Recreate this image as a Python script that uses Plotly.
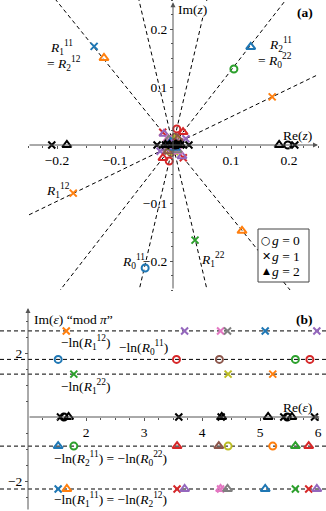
import numpy as np
import plotly.graph_objects as go

W, H = 326, 511
FONT = "Liberation Serif"
FS = 13.5
AX = "#555555"

TAB10 = ["#1f77b4", "#ff7f0e", "#2ca02c", "#d62728", "#9467bd",
         "#8c564b", "#e377c2", "#7f7f7f", "#bcbd22", "#17becf"]
SYMBOL = {0: "circle-open", 1: "x-thin-open", 2: "triangle-up-open"}
SIZE = {0: 7, 1: 7, 2: 8}
G_NAMES = ["<i>g</i> = 0", "<i>g</i> = 1", "<i>g</i> = 2"]
G_GLYPH = ["\u25cb", "\u2715", "\u25b2"]

# ---------------- data ----------------
# Im(eps) of the dashed levels (panel b); in panel (a) they are lines arg z = -Im(eps)
level_im = [2.69, 1.80, 1.34, -0.91, -2.25]

# panel (b): eps plane   (colour index -1 = black, g = 0/1/2)
b_re = [1.66, 3.70, 4.32, 4.44, 5.09, 5.98,
        1.52, 3.56, 4.30, 5.61, 5.86,
        1.79, 4.45, 5.22,
        1.52, 1.79, 3.57, 4.29, 4.45, 5.22, 5.61, 5.84,
        1.52, 1.67, 3.57, 3.70, 4.32, 4.32, 4.44, 5.09, 5.61, 5.84, 5.98,
        1.56, 1.62, 1.70, 3.60, 4.33, 4.34, 5.14, 5.41, 5.47, 5.55, 5.94]
b_im = [2.69] * 6 + [1.80] * 5 + [1.34] * 3 + [-0.91] * 8 + [-2.25] * 11 + [0.0] * 11
b_col = [1, 4, 6, 7, 0, 4,
         0, 3, 5, 2, 3,
         2, 8, 1,
         0, 2, 3, 5, 8, 1, 2, 3,
         0, 1, 3, 4, 6, 6, 7, 0, 2, 3, 4,
         -1, -1, -1, -1, -1, -1, -1, -1, -1, -1, -1]
b_g = [1, 1, 1, 1, 1, 1,
       0, 0, 0, 0, 0,
       1, 1, 1,
       2, 0, 2, 2, 0, 0, 2, 2,
       1, 2, 1, 2, 1, 2, 2, 2, 1, 1, 2,
       1, 0, 2, 1, 1, 2, 2, 1, 0, 2, 1]

# panel (a): z plane
a_re = [-0.136, -0.119, 0.134, 0.105, 0.171, -0.172, 0.119, 0.038, -0.048,
        0.0222, -0.0222, 0.0120, -0.0120, 0.0106, -0.0106, 0.0055, -0.0055, 0.0023, -0.0023,
        0.0065, -0.0065, 0.0031, -0.0031, 0.0008, -0.0008, 0.0006, -0.0006,
        0.0027, -0.0027, 0.0012, -0.0012,
        0.0173, -0.0173, 0.0084, -0.0084, 0.0072, -0.0072, 0.0033, -0.0033,
        0.0022, -0.0022, 0.0018, -0.0018,
        -0.0177, 0.0177, -0.0155, 0.0155, -0.0084, 0.0084, -0.0084, 0.0084,
        -0.0074, 0.0074, -0.0039, 0.0039, -0.0023, 0.0023, -0.0018, 0.0018, -0.0016, 0.0016,
        -0.209, 0.210, -0.0275, 0.0275, -0.0131, 0.0131, 0.0045, -0.0026,
        0.198, 0.0042,
        -0.183, 0.183, -0.0131, 0.0131, -0.0059, 0.0059, 0.0039]
a_im = [0.170, 0.150, 0.169, 0.131, 0.083, -0.083, -0.148, -0.164, -0.212,
        0.0108, -0.0108, 0.0058, -0.0058, 0.0051, -0.0051, 0.0027, -0.0027, 0.0011, -0.0011,
        0.0277, -0.0277, 0.0132, -0.0132, 0.0036, -0.0036, 0.0028, -0.0028,
        -0.0114, 0.0114, -0.0053, 0.0053,
        0.0222, -0.0222, 0.0108, -0.0108, 0.0092, -0.0092, 0.0043, -0.0043,
        0.0029, -0.0029, 0.0023, -0.0023,
        0.0219, -0.0219, 0.0192, -0.0192, 0.0103, -0.0103, 0.0103, -0.0103,
        0.0092, -0.0092, 0.0048, -0.0048, 0.0028, -0.0028, 0.0023, -0.0023, 0.0020, -0.0020,
        0, 0, 0, 0, 0, 0, 0, 0,
        0, 0,
        0, 0, 0, 0, 0, 0, 0]
a_col = [0, 1, 0, 2, 1, 1, 1, 2, 0,
         4, 4, 6, 6, 7, 7, 0, 0, 4, 4,
         3, 3, 5, 5, 2, 2, 3, 3,
         8, 8, 1, 1,
         3, 3, 5, 5, 8, 8, 1, 1, 2, 2, 3, 3,
         3, 3, 4, 4, 6, 6, 6, 6, 7, 7, 0, 0, 2, 2, 3, 3, 4, 4,
         -1, -1, -1, -1, -1, -1, -1, -1,
         -1, -1,
         -1, -1, -1, -1, -1, -1, -1]
a_g = [1, 2, 2, 0, 1, 1, 2, 1, 0,
       1, 1, 1, 1, 1, 1, 1, 1, 1, 1,
       0, 0, 0, 0, 0, 0, 0, 0,
       1, 1, 1, 1,
       2, 2, 2, 2, 0, 0, 0, 0, 2, 2, 2, 2,
       1, 1, 2, 2, 1, 1, 2, 2, 2, 2, 2, 2, 1, 1, 1, 1, 2, 2,
       1, 1, 1, 1, 1, 1, 1, 1,
       0, 0,
       2, 2, 2, 2, 2, 2, 2]

# tick labels
a_ticks = [-0.2, -0.1, 0.1, 0.2]
a_ticktext = ["\u22120.2", "\u22120.1", "0.1", "0.2"]
b_xticks = [2, 3, 4, 5, 6]
b_yticks = [-2, 2]
b_yticktext = ["\u22122", "2"]

# ---------------- geometry (pixels) ----------------
A_RANGE = 0.25
A_PX = (28, 318)      # x pixel span of panel (a)
A_PY = (0, 290)       # y pixel span of panel (a)
B_PY = (305, 511)
B_XRANGE = [1 - 28 / 58, 1 + 298 / 58]
B_YRANGE = [(417 - 511) / 32, (417 - 305) / 32]

def py2paper(py):
    return 1 - py / H

a_xdom = [A_PX[0] / W, A_PX[1] / W]
a_ydom = [py2paper(A_PY[1]), py2paper(A_PY[0])]
b_xdom = [0, 1]
b_ydom = [py2paper(B_PY[1]), py2paper(B_PY[0])]
a_x0paper = a_xdom[0] + (0 + A_RANGE) / (2 * A_RANGE) * (a_xdom[1] - a_xdom[0])
a_y0paper = a_ydom[0] + (0 + A_RANGE) / (2 * A_RANGE) * (a_ydom[1] - a_ydom[0])
b_x1paper = (1 - B_XRANGE[0]) / (B_XRANGE[1] - B_XRANGE[0])
b_y0paper = b_ydom[0] + (0 - B_YRANGE[0]) / (B_YRANGE[1] - B_YRANGE[0]) * (b_ydom[1] - b_ydom[0])

fig = go.Figure()

# dashed lines of panel (a): lines through the origin at arg z = -Im(eps)
for lv in level_im:
    th = -lv
    fig.add_trace(go.Scatter(
        x=[-0.6 * np.cos(th), 0.6 * np.cos(th)], y=[-0.6 * np.sin(th), 0.6 * np.sin(th)],
        mode="lines", line=dict(color="black", width=1, dash="4px,3px"),
        hoverinfo="skip", showlegend=False, xaxis="x", yaxis="y"))

def colour(c):
    return "black" if c < 0 else TAB10[c]

def add_points(re, im, col, g, xa, ya):
    re, im, col, g = map(np.asarray, (re, im, col, g))
    for black in (False, True):
        for gg in (0, 1, 2):
            m = (g == gg) & ((col < 0) if black else (col >= 0))
            if not m.any():
                continue
            cs = [colour(c) for c in col[m]]
            fig.add_trace(go.Scatter(
                x=re[m], y=im[m], mode="markers", xaxis=xa, yaxis=ya,
                marker=dict(symbol=SYMBOL[gg], size=SIZE[gg], color=cs,
                            line=dict(width=2, color=cs)),
                name=G_NAMES[gg], showlegend=False, hoverinfo="skip", cliponaxis=False))

add_points(a_re, a_im, a_col, a_g, "x", "y")
add_points(b_re, b_im, b_col, b_g, "x2", "y2")

tickfont = dict(family=FONT, size=FS, color="black")
common = dict(showgrid=False, zeroline=False, showline=False, ticks="outside",
              ticklen=3, tickwidth=1, tickcolor=AX, tickfont=tickfont, anchor="free",
              automargin=False)

a_minor = [round(v, 3) for v in np.arange(-0.25, 0.2501, 0.025)
           if abs(v) > 1e-9 and round(v, 3) not in a_ticks]
b_xminor = [v for v in np.arange(1.25, 6.001, 0.25) if v not in b_xticks]
b_yminor = [v for v in np.arange(-2.5, 3.001, 0.5) if v not in b_yticks and v != 0]

fig.update_layout(
    width=W, height=H, margin=dict(l=0, r=0, t=0, b=0, autoexpand=False),
    paper_bgcolor="white", plot_bgcolor="rgba(0,0,0,0)",
    font=dict(family=FONT, size=FS, color="black"),
    xaxis=dict(domain=a_xdom, range=[-A_RANGE, A_RANGE], position=a_y0paper,
               tickvals=a_ticks, ticktext=a_ticktext,
               minor=dict(tickvals=a_minor, ticks="outside", ticklen=2, tickcolor=AX),
               **common),
    yaxis=dict(domain=a_ydom, range=[-A_RANGE, A_RANGE], position=a_x0paper,
               tickvals=a_ticks, ticktext=a_ticktext,
               minor=dict(tickvals=a_minor, ticks="outside", ticklen=2, tickcolor=AX),
               **common),
    xaxis2=dict(domain=b_xdom, range=B_XRANGE, position=b_y0paper,
                tickvals=b_xticks,
                minor=dict(tickvals=b_xminor, ticks="outside", ticklen=2, tickcolor=AX),
                **common),
    yaxis2=dict(domain=b_ydom, range=B_YRANGE, position=b_x1paper,
                tickvals=b_yticks, ticktext=b_yticktext,
                minor=dict(tickvals=b_yminor, ticks="outside", ticklen=2, tickcolor=AX),
                **common),
    showlegend=False,
    hovermode=False,
)

# dashed levels of panel (b)
for lv in level_im:
    fig.add_shape(type="line", xref="paper", x0=0, x1=1, yref="y2", y0=lv, y1=lv,
                  line=dict(color="black", width=1, dash="4px,3px"), layer="below")

def arrow(x0, y0, x1, y1, xr, yr):
    fig.add_annotation(x=x1, y=y1, ax=x0, ay=y0, xref=xr, yref=yr, axref=xr, ayref=yr,
                       text="", showarrow=True, arrowhead=2, arrowsize=1,
                       arrowwidth=1, arrowcolor=AX, standoff=0, startstandoff=0)

arrow(-A_RANGE, 0, A_RANGE, 0, "x", "y")
arrow(0, -A_RANGE, 0, 0.246, "x", "y")
arrow(1, 0, 6.03, 0, "x2", "y2")
arrow(1, B_YRANGE[0], 1, 3.41, "x2", "y2")

def label(text, x, y, xr, yr, xanchor="center", bg=None, family=FONT, size=FS):
    fig.add_annotation(x=x, y=y, xref=xr, yref=yr, text=text, showarrow=False,
                       xanchor=xanchor, yanchor="middle",
                       font=dict(family=family, size=size, color="black"),
                       bgcolor=bg, borderpad=0)

R = lambda lo, up: f"<i>R</i><sub>{lo}</sub><sup>{up}</sup>"
M = "\u2212"
# panel (a)
label(R(1, 11), -0.193, 0.168, "x", "y")
label("= " + R(2, 12), -0.188, 0.140, "x", "y")
label(R(2, 11), 0.185, 0.174, "x", "y")
label("= " + R(0, 22), 0.175, 0.145, "x", "y")
label(R(1, 12), -0.198, -0.078, "x", "y")
label(R(0, 11), -0.068, -0.200, "x", "y")
label(R(1, 22), 0.069, -0.197, "x", "y")
label("Re(<i>z</i>)", 0.2155, 0.017, "x", "y")
label("Im(<i>z</i>)", 0.033, 0.233, "x", "y", bg="white")
label("<b>(a)</b>", 0.227, 0.229, "x", "y")
# panel (b)
label("Im(<i>\u03b5</i>) \u201cmod <i>\u03c0</i>\u201d", 1.086, 3.06, "x2", "y2", "left")
label("<b>(b)</b>", 5.76, 3.06, "x2", "y2")
label(f"{M}ln({R(1, 12)})", 1.55, 2.33, "x2", "y2", "left")
label(f"{M}ln({R(0, 11)})", 2.55, 2.17, "x2", "y2", "left")
label(f"{M}ln({R(1, 22)})", 1.55, 0.94, "x2", "y2", "left")
label("Re(<i>\u03b5</i>)", 5.655, 0.31, "x2", "y2")
label(f"{M}ln({R(2, 11)}) = {M}ln({R(0, 22)})", 1.43, -1.31, "x2", "y2", "left")
label(f"{M}ln({R(1, 11)}) = {M}ln({R(2, 12)})", 1.43, -2.57, "x2", "y2", "left")

# legend box (panel a)
LEG = dict(x0=258, x1=309, y0=229, y1=282)
fig.add_shape(type="rect", xref="paper", yref="paper",
              x0=LEG["x0"] / W, x1=LEG["x1"] / W,
              y0=py2paper(LEG["y1"]), y1=py2paper(LEG["y0"]),
              line=dict(color="#444", width=1), fillcolor="white", layer="above")
for i, (glyph, name) in enumerate(zip(G_GLYPH, G_NAMES)):
    yy = py2paper(241 + 15 * i)
    label(f"<b>{glyph}</b>", 266 / W, yy, "paper", "paper",
          family="DejaVu Sans", size=11 if i < 2 else 9)
    label(name, 271 / W, yy, "paper", "paper", "left")

fig.write_html("out.html",
               config={"displayModeBar": False, "staticPlot": True},
               post_script="document.body.style.margin='0';"
                           "document.body.style.overflow='hidden';")
